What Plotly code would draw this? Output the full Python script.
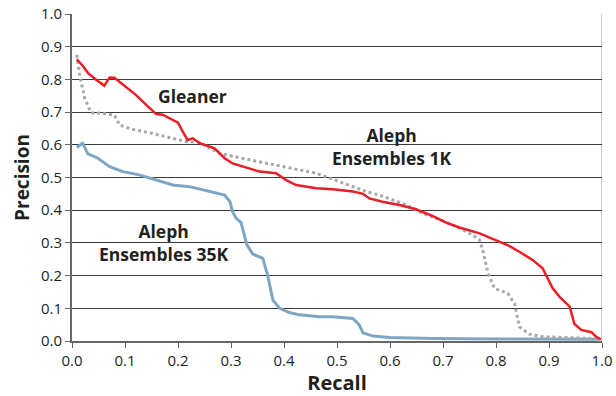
import plotly.graph_objects as go

gleaner_recall = [0.009, 0.019, 0.030, 0.046, 0.061, 0.071, 0.080, 0.102, 0.121, 0.140, 0.159, 0.171,
                  0.200, 0.209, 0.218, 0.228, 0.241, 0.269, 0.288, 0.303, 0.322, 0.354, 0.385, 0.404,
                  0.423, 0.461, 0.492, 0.530, 0.549, 0.561, 0.586, 0.618, 0.649, 0.681, 0.706, 0.731,
                  0.769, 0.800, 0.825, 0.844, 0.869, 0.888, 0.907, 0.920, 0.939, 0.948, 0.961, 0.980,
                  0.989, 0.998]
gleaner_precision = [0.861, 0.844, 0.820, 0.798, 0.781, 0.806, 0.805, 0.776, 0.752, 0.722, 0.694, 0.692,
                     0.668, 0.640, 0.615, 0.620, 0.605, 0.589, 0.559, 0.543, 0.533, 0.518, 0.513, 0.492,
                     0.477, 0.467, 0.464, 0.457, 0.450, 0.436, 0.426, 0.416, 0.403, 0.382, 0.362, 0.347,
                     0.329, 0.309, 0.291, 0.273, 0.248, 0.222, 0.161, 0.135, 0.105, 0.052, 0.034, 0.027,
                     0.013, 0.005]

aleph1k_recall = [0.009, 0.014, 0.024, 0.036, 0.058, 0.080, 0.090, 0.115, 0.146, 0.178, 0.215, 0.241,
                  0.278, 0.335, 0.398, 0.461, 0.500, 0.555, 0.586, 0.631, 0.662, 0.693, 0.725, 0.756,
                  0.769, 0.775, 0.785, 0.797, 0.822, 0.835, 0.844, 0.863, 0.888, 0.932, 0.995]
aleph1k_precision = [0.875, 0.818, 0.742, 0.698, 0.696, 0.691, 0.660, 0.647, 0.637, 0.625, 0.610, 0.607,
                     0.574, 0.554, 0.533, 0.513, 0.490, 0.457, 0.443, 0.416, 0.390, 0.372, 0.350, 0.324,
                     0.309, 0.278, 0.207, 0.161, 0.146, 0.115, 0.044, 0.021, 0.013, 0.010, 0.007]

aleph35k_recall = [0.009, 0.020, 0.030, 0.049, 0.071, 0.096, 0.127, 0.159, 0.190, 0.222, 0.253, 0.288,
                   0.298, 0.303, 0.310, 0.319, 0.330, 0.341, 0.360, 0.369, 0.379, 0.392, 0.410, 0.429,
                   0.467, 0.492, 0.530, 0.542, 0.549, 0.568, 0.599, 0.681, 0.807, 0.995]
aleph35k_precision = [0.592, 0.605, 0.572, 0.559, 0.533, 0.518, 0.508, 0.492, 0.477, 0.472, 0.460, 0.446,
                      0.426, 0.395, 0.375, 0.362, 0.294, 0.266, 0.253, 0.202, 0.125, 0.100, 0.087, 0.080,
                      0.074, 0.074, 0.069, 0.049, 0.025, 0.015, 0.011, 0.008, 0.006, 0.005]

tick_vals = [i / 10 for i in range(11)]
tick_text = ["%.1f" % v for v in tick_vals]

FONT = "Open Sans"
INK = "#231f20"

fig = go.Figure()
fig.add_trace(go.Scatter(x=aleph35k_recall, y=aleph35k_precision, mode="lines",
                         line=dict(color="#7ea6c2", width=3), name="Aleph Ensembles 35K"))
fig.add_trace(go.Scatter(x=aleph1k_recall, y=aleph1k_precision, mode="lines",
                         line=dict(color="#a8a8a8", width=3, dash="dot"), name="Aleph Ensembles 1K"))
fig.add_trace(go.Scatter(x=gleaner_recall, y=gleaner_precision, mode="lines",
                         line=dict(color="#ee1c24", width=2.5), name="Gleaner"))

fig.add_annotation(x=0.227, y=0.75, text="<b>Gleaner</b>", showarrow=False,
                   font=dict(family=FONT, size=17.5, color=INK))
fig.add_annotation(x=0.603, y=0.595, text="<b>Aleph<br>Ensembles 1K</b>", showarrow=False,
                   font=dict(family=FONT, size=17.5, color=INK))
fig.add_annotation(x=0.173, y=0.30, text="<b>Aleph<br>Ensembles 35K</b>", showarrow=False,
                   font=dict(family=FONT, size=17.5, color=INK))

fig.update_layout(
    width=616, height=396,
    margin=dict(l=72, r=14, t=14, b=55),
    paper_bgcolor="white", plot_bgcolor="white",
    showlegend=False,
    font=dict(family=FONT, color=INK),
)
fig.update_xaxes(range=[0, 1], tickvals=tick_vals, ticktext=tick_text, automargin=False,
                 showgrid=False, zeroline=False, showline=True, linecolor="#666666", linewidth=2,
                 ticks="outside", ticklen=5, tickcolor="#666666",
                 tickfont=dict(size=15, family=FONT, color=INK),
                 title=dict(text="<b>Recall</b>", font=dict(size=20, family=FONT, color=INK), standoff=4))
fig.update_yaxes(range=[0, 1], tickvals=tick_vals, ticktext=tick_text, automargin=False,
                 showgrid=True, gridcolor="#3a3a3a", gridwidth=1, zeroline=False,
                 showline=True, linecolor="#666666", linewidth=2,
                 ticks="outside", ticklen=5, tickcolor="#666666",
                 tickfont=dict(size=15, family=FONT, color=INK),
                 title=dict(text="<b>Precision</b>", font=dict(size=19, family=FONT, color=INK), standoff=6))
fig.add_shape(type="line", xref="x", yref="paper", x0=1, x1=1, y0=0, y1=1,
              line=dict(color="#bbbbbb", width=1.5), layer="below")

fig.write_html("out.html")
